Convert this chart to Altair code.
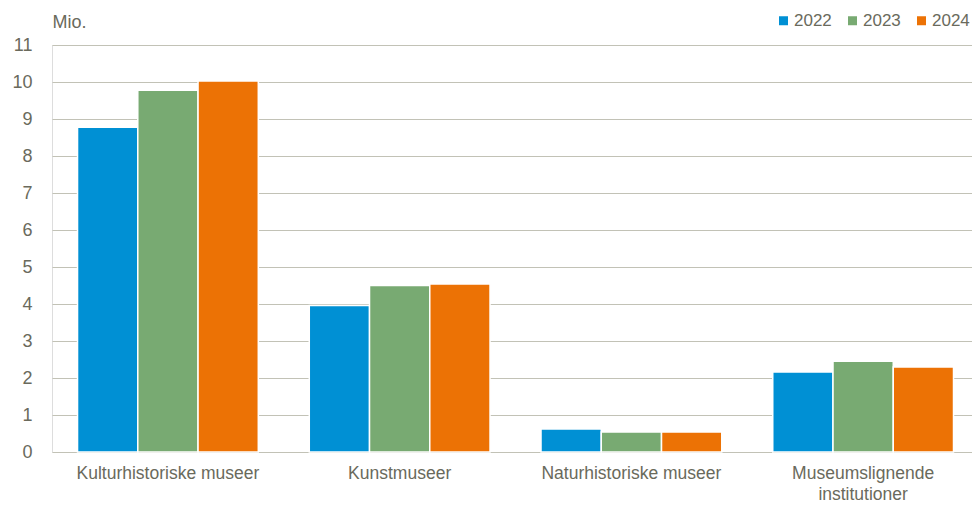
import altair as alt
import pandas as pd

categories = ["Kulturhistoriske museer", "Kunstmuseer", "Naturhistoriske museer", "Museumslignende institutioner"]
years = ["2022", "2023", "2024"]
v2022 = [8.78, 3.96, 0.62, 2.16]
v2023 = [9.78, 4.50, 0.54, 2.45]
v2024 = [10.03, 4.54, 0.54, 2.30]
colors = ["#0090d4", "#78aa72", "#ec7205"]
y_ticks = list(range(0, 12))

rows = []
for yr, vals in zip(years, [v2022, v2023, v2024]):
    for c, v in zip(categories, vals):
        rows.append({"kategori": c, "år": yr, "værdi": v})
df = pd.DataFrame(rows)

text_color = "#6a6a5c"
grid_color = "#c2c2b6"
font = "Liberation Sans"
fs = 18

chart = alt.Chart(df).mark_bar(stroke="white", strokeWidth=1.5).encode(
    x=alt.X("kategori:N", sort=categories,
            scale=alt.Scale(paddingInner=0.22, paddingOuter=0.095, align=0.58),
            axis=alt.Axis(title=None, labelAngle=0, ticks=False, domain=False,
                          labelPadding=12, labelFontSize=17.5, labelColor=text_color,
                          labelFont=font, labelLineHeight=21, labelLimit=300,
                          labelExpr="datum.label == 'Museumslignende institutioner' ? ['Museumslignende', 'institutioner'] : datum.label")),
    xOffset=alt.XOffset("år:N", sort=years, scale=alt.Scale(paddingInner=0, paddingOuter=0)),
    y=alt.Y("værdi:Q", scale=alt.Scale(domain=[0, 11], nice=False),
            axis=alt.Axis(values=y_ticks, title="Mio.", titleAngle=0, titleAlign="left",
                          titleBaseline="middle", titleX=0, titleY=-23,
                          titleFontSize=fs, titleFontWeight="normal", titleColor=text_color,
                          titleFont=font,
                          ticks=False, domain=False, labelPadding=20, labelFontSize=fs,
                          labelColor=text_color, labelFont=font,
                          grid=True, gridColor=grid_color, gridWidth=1.2)),
    color=alt.Color("år:N", sort=years, scale=alt.Scale(domain=years, range=colors),
                    legend=alt.Legend(title=None, orient="none", direction="horizontal",
                                      legendX=723, legendY=-33, symbolType="square",
                                      symbolSize=81, symbolStrokeWidth=0, labelFontSize=17,
                                      labelColor=text_color, labelFont=font, labelOffset=2,
                                      columnPadding=12)),
).properties(
    width=920, height=407,
    autosize=alt.AutoSizeParams(type="none"),
    padding={"left": 44, "top": 37, "right": 0, "bottom": 50},
).configure_view(stroke=None).configure(background="white")

chart.save("out.html", embed_options={"renderer": "svg", "actions": False})
